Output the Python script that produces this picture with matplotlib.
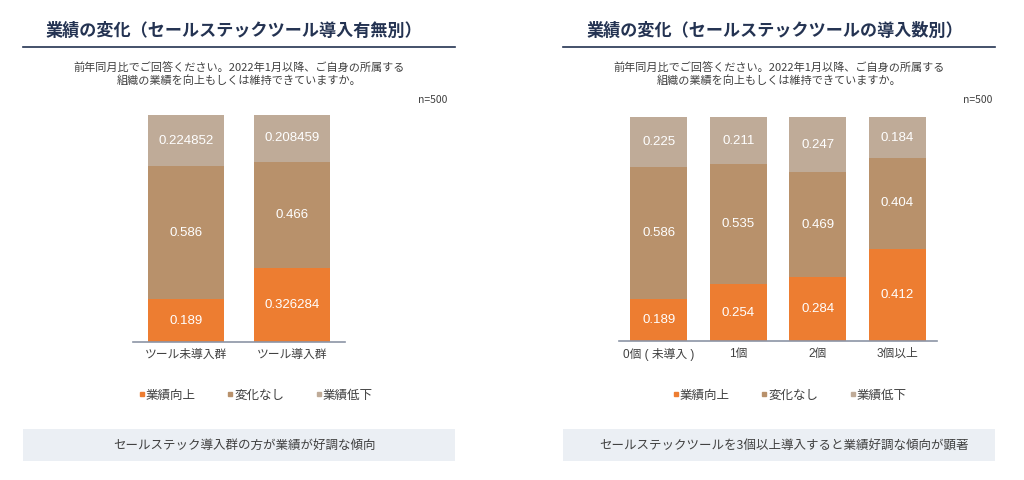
import matplotlib
matplotlib.use("Agg")
import matplotlib.pyplot as plt
from matplotlib.patches import Rectangle
from matplotlib.lines import Line2D

plt.rcParams['font.family'] = ['Noto Sans CJK JP', 'DejaVu Sans']

# data
left_cats = ["ツール未導入群", "ツール導入群"]
left_up = [0.189, 0.326284]
left_same = [0.586, 0.466]
left_down = [0.224852, 0.208459]
left_up_lbl = ["0.189", "0.326284"]
left_same_lbl = ["0.586", "0.466"]
left_down_lbl = ["0.224852", "0.208459"]

right_cats = ["0個 ( 未導入 )", "1個", "2個", "3個以上"]
right_up = [0.189, 0.254, 0.284, 0.412]
right_same = [0.586, 0.535, 0.469, 0.404]
right_down = [0.225, 0.211, 0.247, 0.184]

series_names = ["業績向上", "変化なし", "業績低下"]
colors = ["#ED7D31", "#B8916B", "#BFAB98"]
NAVY = "#243352"
GRAY_TXT = "#404040"
ARIAL = ['Liberation Sans', 'Noto Sans CJK JP']

titles = ["業績の変化（セールステックツール導入有無別）",
          "業績の変化（セールステックツールの導入数別）"]
question = "前年同月比でご回答ください。2022年1月以降、ご自身の所属する\n組織の業績を向上もしくは維持できていますか。"
notes = ["セールステック導入群の方が業績が好調な傾向",
         "セールステックツールを3個以上導入すると業績好調な傾向が顕著"]

W, H = 1024, 480
fig = plt.figure(figsize=(W / 100, H / 100), dpi=100)


def fx(px):
    return px / W


def fy(py):
    return 1 - py / H


def draw_panel(rect, cats, up, same, down, labels, width):
    ax = fig.add_axes(rect)
    x = range(len(cats))
    stacks = [up, same, down]
    bottom = [0] * len(cats)
    for vals, col, lbls in zip(stacks, colors, labels):
        bars = ax.bar(x, vals, width, bottom=bottom, color=col)
        for b, v, l in zip(bars, vals, lbls):
            ax.text(b.get_x() + b.get_width() / 2, b.get_y() + v / 2, l,
                    ha="center", va="center", color="white", fontsize=9.5,
                    family=ARIAL)
        bottom = [b + v for b, v in zip(bottom, vals)]
    ax.set_xlim(-0.5, len(cats) - 0.5)
    ax.set_ylim(0, 1)
    ax.set_yticks([])
    ax.set_xticks(list(x))
    ax.set_xticklabels(cats, fontsize=8.5, color=GRAY_TXT, family=ARIAL)
    ax.tick_params(axis="x", length=0, pad=5)
    for s in ["top", "right", "left"]:
        ax.spines[s].set_visible(False)
    ax.spines["bottom"].set_color("#8C95A6")
    ax.spines["bottom"].set_linewidth(1.2)
    return ax


# left panel
draw_panel([fx(133), fy(342), fx(345 - 133), (342 - 115) / H],
           left_cats, left_up, left_same, left_down,
           [left_up_lbl, left_same_lbl, left_down_lbl], 0.71)

# right panel
draw_panel([fx(619), fy(341), fx(937 - 619), (341 - 117) / H],
           right_cats, right_up, right_same, right_down,
           [[f"{v:.3f}" for v in right_up], [f"{v:.3f}" for v in right_same],
            [f"{v:.3f}" for v in right_down]], 0.72)

# headers, questions, legends, note boxes
panels = [(23, 455, 234, 239, 447, 256, 244), (563, 995, 775, 779, 992, 790, 784)]
for i, (x0, x1, tcx, qcx, nx, lgx, ncx) in enumerate(panels):
    fig.text(fx(tcx), fy(31), titles[i], ha="center", va="center",
             fontsize=12.3, fontweight="bold", color=NAVY)
    fig.add_artist(Line2D([fx(x0), fx(x1)], [fy(47), fy(47)],
                          color=NAVY, lw=1.2, transform=fig.transFigure))
    fig.text(fx(qcx), fy(74), question, ha="center", va="center",
             fontsize=8, color=GRAY_TXT, linespacing=1.3)
    fig.text(fx(nx), fy(100), "n=500", ha="right", va="center",
             fontsize=7.5, color=GRAY_TXT)
    handles = [Line2D([], [], marker="s", ls="", color=c, markersize=3)
               for c in colors]
    fig.legend(handles, series_names, loc="center", ncol=3,
               bbox_to_anchor=(fx(lgx), fy(395)), frameon=False,
               fontsize=9, handlelength=0.4, handletextpad=0.1,
               columnspacing=2.6, labelcolor=GRAY_TXT)
    fig.add_artist(Rectangle((fx(x0), fy(461)), fx(x1 - x0), (461 - 429) / H,
                             transform=fig.transFigure, color="#EBEFF4", lw=0))
    fig.text(fx(ncx), fy(445), notes[i], ha="center", va="center",
             fontsize=9, color=GRAY_TXT)

fig.savefig("out.png", dpi=100)
